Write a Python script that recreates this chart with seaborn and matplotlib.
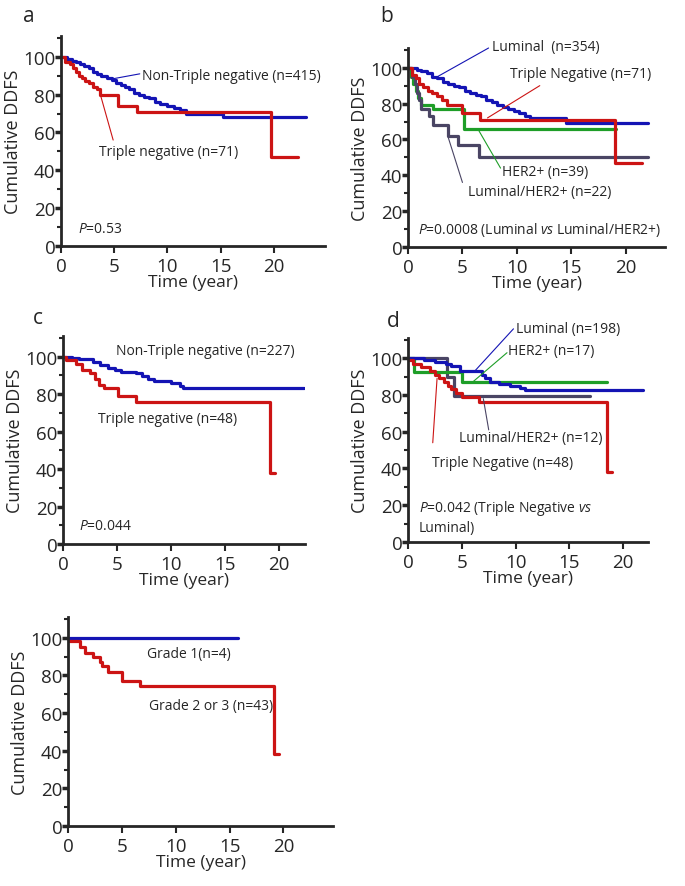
import numpy as np
import pandas as pd
import matplotlib
matplotlib.use("Agg")
import matplotlib.pyplot as plt
import seaborn as sns

# ---------- dados ----------
# painel a
a_nontn_t = [0, 0.6, 1.0, 1.4, 1.8, 2.2, 2.6, 3.0, 3.4, 3.8, 4.3, 4.8, 5.2, 5.6, 6.0, 6.4, 6.9, 7.3, 7.8, 8.3, 8.8, 9.3, 10.0, 10.6, 11.2, 11.7, 15.2, 23.0]
a_nontn_s = [100, 99, 98, 97, 96, 95, 94, 92, 91, 90, 89, 87.5, 86, 85, 84, 83, 81, 80, 79, 78, 76, 75, 74, 73, 72, 70, 68, 68]
a_tn_t = [0, 0.4, 0.8, 1.1, 1.4, 1.7, 2.0, 2.3, 2.6, 3.0, 3.4, 3.7, 5.4, 7.1, 19.7, 22.3]
a_tn_s = [100, 97, 96, 94, 92, 90, 89, 87, 86, 84, 83, 80, 74, 71, 47, 47]

# painel b
b_lum_t = [0, 0.8, 1.2, 1.7, 2.2, 2.7, 3.2, 3.7, 4.2, 4.7, 5.2, 5.7, 6.2, 6.7, 7.2, 7.7, 8.2, 8.7, 9.2, 9.7, 10.2, 10.7, 11.2, 14.5, 22.0]
b_lum_s = [100, 99, 98, 97, 95, 94, 92, 91, 90, 89, 87, 86, 85, 84, 82, 81, 79, 78, 77, 76, 75, 73, 72, 69, 69]
b_tn_t = [0, 0.4, 0.7, 1.0, 1.4, 1.8, 2.2, 2.7, 3.1, 3.6, 5.0, 6.6, 19.0, 21.5]
b_tn_s = [100, 96, 94, 91, 89, 87, 86, 84, 82, 79, 75, 71, 47, 47]
b_her2_t = [0, 0.3, 0.5, 0.7, 0.9, 1.2, 2.3, 5.1, 19.1]
b_her2_s = [100, 95, 91, 87, 83, 79, 77, 66, 66]
b_lumher2_t = [0, 0.4, 0.6, 0.8, 1.0, 1.2, 1.9, 2.3, 3.7, 4.6, 6.5, 22.0]
b_lumher2_s = [100, 95, 91, 86, 82, 77, 73, 68, 62, 57, 50, 50]

# painel c
c_nontn_t = [0, 0.8, 1.5, 2.8, 3.4, 4.2, 4.8, 5.4, 6.8, 7.3, 7.9, 8.4, 10.0, 10.8, 11.1, 22.3]
c_nontn_s = [100, 99, 98.5, 97, 95.5, 94, 93, 92, 91, 89.5, 88, 87, 86, 84.5, 83, 83]
c_tn_t = [0, 0.3, 1.2, 1.8, 2.5, 3.0, 3.3, 3.8, 5.1, 6.8, 19.2, 19.6]
c_tn_s = [100, 98, 96, 93, 91, 88, 85, 83, 79, 76, 38, 38]

# painel d
d_lum_t = [0, 1.5, 2.5, 3.5, 4.0, 4.8, 6.9, 7.2, 7.6, 8.5, 9.5, 10.4, 10.9, 21.8]
d_lum_s = [100, 99, 98, 97, 96, 93, 91, 89, 87, 86, 85, 84, 82.5, 82.5]
d_her2_t = [0, 0.6, 5.0, 18.5]
d_her2_s = [100, 92.5, 87, 87]
d_lumher2_t = [0, 3.6, 4.3, 16.9]
d_lumher2_s = [100, 90, 79.5, 79.5]
d_tn_t = [0, 0.5, 1.2, 2.0, 2.5, 2.9, 3.3, 3.7, 4.0, 4.5, 5.0, 6.6, 18.5, 19.0]
d_tn_s = [99, 97, 95, 93, 91, 89, 87, 85, 83, 81, 79, 76, 38, 38]

# painel e
e_g1_t = [0, 15.8]
e_g1_s = [100, 100]
e_g23_t = [0, 1.1, 1.6, 2.3, 3.0, 3.2, 3.7, 5.0, 6.7, 19.1, 19.6]
e_g23_s = [98, 95, 92, 90, 87, 85, 82, 77, 74.5, 38, 38]

# ---------- estilo ----------
BLUE = "#1414b4"
RED = "#cc1414"
GREEN = "#1e9e28"
PURPLE = "#4a4564"

sns.set_style("ticks")
plt.rcParams['font.family'] = ['Open Sans', 'DejaVu Sans']
plt.rcParams['mathtext.fontset'] = 'custom'
plt.rcParams['mathtext.rm'] = 'Open Sans'
plt.rcParams['mathtext.it'] = 'Open Sans:italic'

W, H = 685, 887
fig = plt.figure(figsize=(W / 100, H / 100), dpi=100)


def make_ax(left, right, y0, top, xmax):
    ax = fig.add_axes([left / W, 1 - y0 / H, (right - left) / W, (y0 - top) / H])
    ax.set_xlim(0, xmax)
    ax.set_ylim(0, 111)
    sns.despine(ax=ax)
    for sp in ['left', 'bottom']:
        ax.spines[sp].set_linewidth(2)
    ax.set_xticks([0, 5, 10, 15, 20])
    ax.set_yticks([0, 20, 40, 60, 80, 100])
    ax.set_yticks([10, 30, 50, 70, 90, 110], minor=True)
    ax.tick_params(axis='y', which='major', length=4, width=2.5, labelsize=13.5, pad=0)
    ax.tick_params(axis='y', which='minor', length=3, width=1.5)
    ax.tick_params(axis='x', which='major', length=5, width=1.5, labelsize=13.5, pad=3)
    return ax


def km(ax, t, s, color):
    df = pd.DataFrame({"t": t, "s": s})
    sns.lineplot(data=df, x="t", y="s", ax=ax, color=color, linewidth=2.3,
                 drawstyle='steps-post', sort=False, estimator=None)
    ax.set_xlabel("Time (year)", fontsize=12.5, labelpad=-1)
    ax.set_ylabel("Cumulative DDFS", fontsize=13, labelpad=1)


def lead(ax, p0, p1, color):
    ax.annotate("", xy=p0, xytext=p1, annotation_clip=False,
                arrowprops=dict(arrowstyle='-', color=color, lw=0.8,
                                shrinkA=0, shrinkB=0))


def label(ax, x, y, txt, size=10):
    ax.text(x, y, txt, fontsize=size, va='center', ha='left', clip_on=False)


# --- a ---
ax = make_ax(61, 325, 247, 37, 24.8)
km(ax, a_nontn_t, a_nontn_s, BLUE)
km(ax, a_tn_t, a_tn_s, RED)
label(ax, 7.6, 90, "Non-Triple negative (n=415)")
lead(ax, (4.5, 88), (7.4, 91), BLUE)
label(ax, 3.6, 50, "Triple negative (n=71)")
lead(ax, (3.7, 80), (4.9, 56), RED)
label(ax, 1.6, 9, r"$\mathit{P}$=0.53")
fig.text(29 / W, 1 - 16 / H, "a", fontsize=15, ha='center', va='center')

# --- b ---
ax = make_ax(408, 665, 248, 49, 23.6)
km(ax, b_lum_t, b_lum_s, BLUE)
km(ax, b_her2_t, b_her2_s, GREEN)
km(ax, b_lumher2_t, b_lumher2_s, PURPLE)
km(ax, b_tn_t, b_tn_s, RED)
label(ax, 7.7, 112, "Luminal  (n=354)")
lead(ax, (2.7, 95), (7.4, 111), BLUE)
label(ax, 9.4, 97, "Triple Negative (n=71)")
lead(ax, (7.3, 72), (12.1, 90), RED)
label(ax, 8.6, 42, "HER2+ (n=39)")
lead(ax, (6.4, 66), (8.5, 44), GREEN)
label(ax, 5.5, 31, "Luminal/HER2+ (n=22)")
lead(ax, (3.7, 61), (5.0, 36), PURPLE)
label(ax, 0.9, 10, r"$\mathit{P}$=0.0008 (Luminal $\mathit{vs}$ Luminal/HER2+)")
fig.text(387 / W, 1 - 16 / H, "b", fontsize=15, ha='center', va='center')

# --- c ---
ax = make_ax(63, 305, 545, 337, 22.4)
km(ax, c_nontn_t, c_nontn_s, BLUE)
km(ax, c_tn_t, c_tn_s, RED)
label(ax, 4.9, 103, "Non-Triple negative (n=227)")
label(ax, 3.2, 67, "Triple negative (n=48)")
label(ax, 1.5, 10, r"$\mathit{P}$=0.044")
fig.text(38 / W, 1 - 318 / H, "c", fontsize=15, ha='center', va='center')

# --- d ---
ax = make_ax(408, 648, 543, 339, 22.3)
km(ax, d_lumher2_t, d_lumher2_s, PURPLE)
km(ax, d_her2_t, d_her2_s, GREEN)
km(ax, d_lum_t, d_lum_s, BLUE)
km(ax, d_tn_t, d_tn_s, RED)
label(ax, 10.0, 116, "Luminal (n=198)")
lead(ax, (6.2, 93), (9.8, 116), BLUE)
label(ax, 9.3, 104, "HER2+ (n=17)")
lead(ax, (6.0, 87), (9.2, 103), GREEN)
label(ax, 4.7, 57, "Luminal/HER2+ (n=12)")
lead(ax, (7.0, 78), (7.5, 61), PURPLE)
label(ax, 2.2, 43, "Triple Negative (n=48)")
lead(ax, (2.7, 89), (2.3, 54), RED)
label(ax, 1.0, 18.5, r"$\mathit{P}$=0.042 (Triple Negative $\mathit{vs}$")
label(ax, 1.0, 8, "Luminal)")
fig.text(393 / W, 1 - 322 / H, "d", fontsize=15, ha='center', va='center')

# --- e ---
ax = make_ax(68, 333, 827, 618, 24.6)
km(ax, e_g1_t, e_g1_s, BLUE)
km(ax, e_g23_t, e_g23_s, RED)
label(ax, 7.3, 91.5, "Grade 1(n=4)")
label(ax, 7.5, 64, "Grade 2 or 3 (n=43)")

fig.savefig("out.png", dpi=100)
